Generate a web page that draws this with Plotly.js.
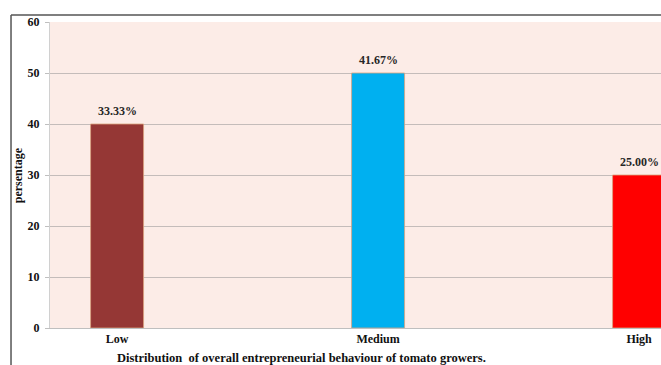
<!DOCTYPE html>
<html>
<head>
<script src="https://cdn.plot.ly/plotly-3.0.1.min.js"></script>
<style>html,body{margin:0;padding:0;background:#fff;}#chart{width:661px;height:365px;}</style>
</head>
<body>
<div id="chart"></div>
<script>
const categories = ["Low", "Medium", "High"];
const values = [40, 50, 30];
const labels = ["33.33%", "41.67%", "25.00%"];
const barColors = ["#953735", "#00B0F0", "#FF0000"];
const yTicks = [0, 10, 20, 30, 40, 50, 60];
const xTitle = "Distribution  of overall entrepreneurial behaviour of tomato growers.";
const yTitle = "persentage";

const FONT = "'Liberation Serif', 'Times New Roman', serif";

const trace = {
  type: "bar",
  x: [0, 1, 2],
  y: values,
  width: 0.203,
  marker: {color: barColors, line: {color: "#d9a37f", width: 0.8}},
  hoverinfo: "none"
};

const annotations = categories.map((c, i) => ({
  x: i, y: values[i], xref: "x", yref: "y",
  text: "<b>" + labels[i] + "</b>", showarrow: false,
  yanchor: "bottom", yshift: 4,
  font: {family: FONT, size: 12, color: "#262626"}
}));
annotations.push({
  x: 0.411, y: -0.097, xref: "paper", yref: "paper",
  text: "<b>" + xTitle + "</b>", showarrow: false,
  xanchor: "center", yanchor: "middle",
  font: {family: FONT, size: 12.5, color: "#111"}
});
annotations.push({
  x: -0.052, y: 0.5, xref: "paper", yref: "paper",
  text: "<b>" + yTitle + "</b>", showarrow: false, textangle: -90,
  xanchor: "center", yanchor: "middle",
  font: {family: FONT, size: 12, color: "#111"}
});

const layout = {
  width: 661, height: 365,
  margin: {l: 50, r: 0, t: 22, b: 37, pad: 0},
  paper_bgcolor: "#ffffff",
  plot_bgcolor: "#fcece7",
  showlegend: false,
  font: {family: FONT, size: 12, color: "#111"},
  xaxis: {
    range: [-0.257, 2.084],
    tickvals: [0, 1, 2],
    ticktext: categories.map(c => "<b>" + c + "</b>"),
    showgrid: false, zeroline: false,
    showline: true, linecolor: "#bfbfbf", linewidth: 1,
    ticks: "", tickfont: {family: FONT, size: 12, color: "#111"}
  },
  yaxis: {
    range: [0, 60],
    tickvals: yTicks,
    ticktext: yTicks.map(v => "<b>" + v + "</b>"),
    showgrid: true, gridcolor: "#c4bcba", gridwidth: 1,
    zeroline: false,
    showline: true, linecolor: "#d0d0d0", linewidth: 1,
    ticks: "outside", ticklen: 4, tickcolor: "#bfbfbf",
    ticklabelstandoff: 3,
    tickfont: {family: FONT, size: 12, color: "#111"}
  },
  annotations: annotations,
  shapes: [
    {type: "line", xref: "paper", yref: "paper", x0: -0.0638, x1: -0.0638, y0: 1.0229, y1: -0.125, line: {color: "#555", width: 1.5}},
    {type: "line", xref: "paper", yref: "paper", x0: -0.0638, x1: 1.01, y0: 1.0229, y1: 1.0229, line: {color: "#555", width: 1.5}}
  ]
};

Plotly.newPlot("chart", [trace], layout, {displayModeBar: false, staticPlot: true});
</script>
</body>
</html>
